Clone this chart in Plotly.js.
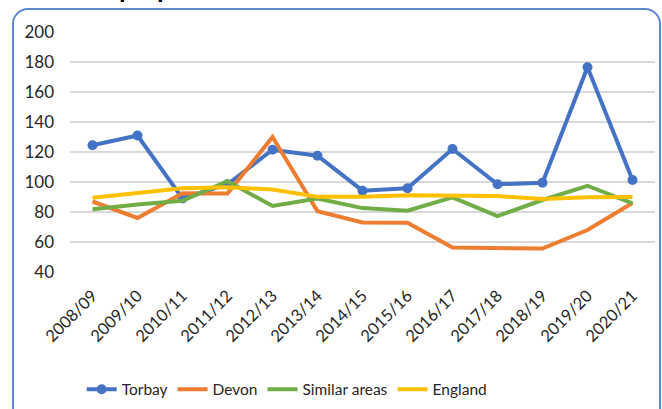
<!DOCTYPE html>
<html>
<head>
<meta charset="utf-8">
<script src="https://cdn.plot.ly/plotly-3.0.1.min.js"></script>
<style>
html,body{margin:0;padding:0;width:662px;height:409px;overflow:hidden;background:#fff;}
#chart{position:absolute;left:0;top:0;width:662px;height:409px;}
#frame{position:absolute;left:12px;top:8px;width:645px;height:460px;border:2px solid #5E86D2;border-radius:16px;pointer-events:none;z-index:5;}
</style>
</head>
<body>
<div id="chart"></div>
<div id="frame"></div>
<script>
var years = ["2008/09","2009/10","2010/11","2011/12","2012/13","2013/14","2014/15","2015/16","2016/17","2017/18","2018/19","2019/20","2020/21"];
var torbay  = [124.5, 131, 89, 98.5, 121.5, 117.5, 94.2, 95.8, 122, 98.5, 99.5, 176.5, 101.3];
var devon   = [87, 76, 92.5, 92.4, 130, 80.5, 73, 72.8, 56.4, 56.2, 55.6, 68, 86];
var similar = [81.8, 85, 87.5, 100.5, 84, 89, 82.6, 80.9, 89.8, 77.2, 88, 97.5, 85.8];
var england = [89.5, 92.5, 95.8, 96.5, 95, 90.2, 90.2, 91.1, 90.8, 90.6, 88.6, 89.9, 90];

var font = "Lato, 'Open Sans', sans-serif";
var traces = [
  {name:"Torbay", x:years, y:torbay, type:"scatter", mode:"lines+markers",
   line:{color:"#4472C4", width:4}, marker:{color:"#4472C4", size:10}},
  {name:"Devon", x:years, y:devon, type:"scatter", mode:"lines",
   line:{color:"#ED7D31", width:4}},
  {name:"Similar areas", x:years, y:similar, type:"scatter", mode:"lines",
   line:{color:"#70AD47", width:4}},
  {name:"England", x:years, y:england, type:"scatter", mode:"lines",
   line:{color:"#FFC000", width:4}}
];
var layout = {
  width:662, height:409,
  margin:{l:70, r:7, t:32, b:137, pad:0, autoexpand:false},
  paper_bgcolor:"rgba(0,0,0,0)", plot_bgcolor:"#fff",
  font:{family:font, size:15, color:"#262626"},
  showlegend:true,
  legend:{orientation:"h", x:0.02, xanchor:"left", y:-0.49, yanchor:"middle",
          font:{family:font, size:15.5, color:"#262626"}, itemwidth:30, traceorder:"normal"},
  xaxis:{type:"category", range:[-0.5,12.5], showgrid:false, zeroline:false, showline:false,
         tickangle:-45, ticks:"", ticklabelstandoff:10, tickfont:{family:font, size:16.5, color:"#262626"}, fixedrange:true},
  yaxis:{range:[40,200], dtick:20, tick0:40, showgrid:true, gridcolor:"#D9D9D9", gridwidth:1.5,
         zeroline:false, showline:false, ticks:"", ticklabelstandoff:15,
         tickfont:{family:font, size:17, color:"#262626"}, fixedrange:true},
  annotations:[
    {text:"<b>p</b>", xref:"paper", yref:"paper", x:(126-70)/585, y:1.115, xanchor:"center", yanchor:"bottom",
     showarrow:false, font:{family:"'Liberation Sans', sans-serif", size:24, color:"#000"}},
    {text:"<b>p</b>", xref:"paper", yref:"paper", x:(164-70)/585, y:1.115, xanchor:"center", yanchor:"bottom",
     showarrow:false, font:{family:"'Liberation Sans', sans-serif", size:24, color:"#000"}}
  ]
};
Plotly.newPlot("chart", traces, layout, {displayModeBar:false, staticPlot:true});
</script>
</body>
</html>
